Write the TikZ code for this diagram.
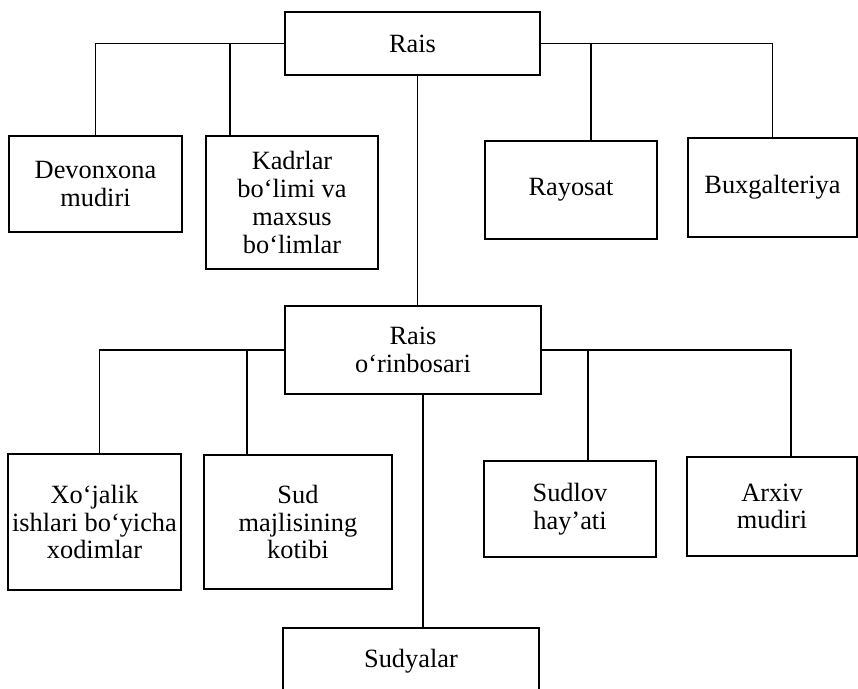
\documentclass[tikz,border=0pt]{standalone}
\usepackage{fontspec}
\setmainfont{Liberation Serif}
\usetikzlibrary{positioning}

\begin{document}
\begin{tikzpicture}[unit/.style={draw,line width=1.1pt,align=center,inner sep=0pt,font=\fontsize{15}{15.8}\selectfont},
                    link/.style={line width=1.1pt}]
\useasboundingbox (0,0) rectangle (17.16,-13.78);

%Top
\node (rais) at (8.25,-0.87)  [unit,minimum width=5.10cm,minimum height=1.26cm] {Rais};
\node (dev)  at (1.91,-3.68)  [unit,minimum width=3.46cm,minimum height=1.92cm] {Devonxona\\mudiri};
\node (kad)  at (5.84,-4.05)  [unit,minimum width=3.44cm,minimum height=2.66cm] {Kadrlar\\bo‘limi va\\maxsus\\bo‘limlar};
\node (ray)  at (11.42,-3.80) [unit,minimum width=3.44cm,minimum height=1.96cm] {Rayosat};
\node (bux)  at (15.45,-3.75) [unit,minimum width=3.38cm,minimum height=1.98cm] {Buxgalteriya};

\draw[link] (rais.west) -| (dev.north);
\draw[link] (rais.west) -| ([xshift=0.5cm]kad.north west);
\draw[link] (rais.east) -| (bux.north);
\draw[link] (rais.east) -| ([xshift=0.4cm]ray.north);

%Middle
\node (orin) at (8.26,-7.00)  [unit,minimum width=5.12cm,minimum height=1.76cm] {Rais\\o‘rinbosari};
\node (xoj)  at (1.89,-10.44) [unit,minimum width=3.46cm,minimum height=2.72cm] {Xo‘jalik\\ishlari bo‘yicha\\xodimlar};
\node (sud)  at (5.96,-10.44) [unit,minimum width=3.76cm,minimum height=2.68cm] {Sud\\majlisining\\kotibi};
\node (slv)  at (11.40,-10.18) [unit,minimum width=3.44cm,minimum height=1.92cm] {Sudlov\\hay’ati};
\node (arx)  at (15.44,-10.13) [unit,minimum width=3.40cm,minimum height=1.98cm] {Arxiv\\mudiri};

\draw[link] ([xshift=1mm]rais.south) -- ([xshift=1mm]rais.south |- orin.north);
\draw[link] (orin.west) -| ([xshift=1mm]xoj.north);
\draw[link] (orin.west) -| ([xshift=0.88cm]sud.north west);
\draw[link] (orin.east) -| ([xshift=0.38cm]arx.north);
\draw[link] (orin.east) -| ([xshift=0.36cm]slv.north);

%Bottom
\node (sdy)  at (8.22,-13.22) [unit,minimum width=5.12cm,minimum height=1.32cm] {Sudyalar};

\draw[link] ([xshift=2mm]orin.south) -- ([xshift=2mm]orin.south |- sdy.north);

\end{tikzpicture}
\end{document}
